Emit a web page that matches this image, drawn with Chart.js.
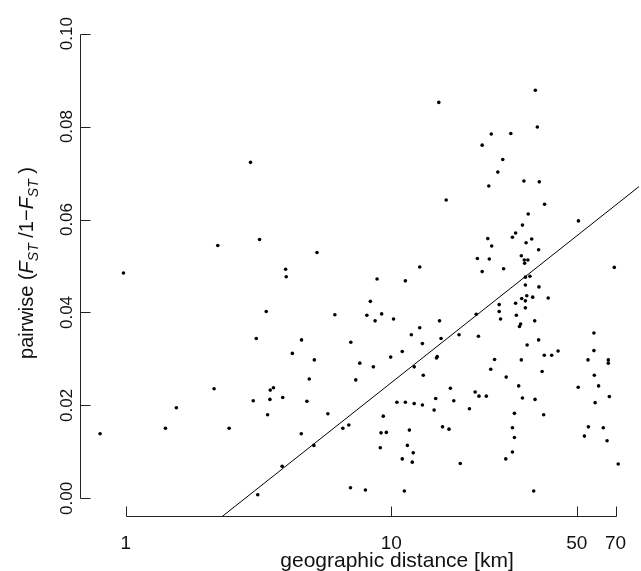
<!DOCTYPE html>
<html>
<head>
<meta charset="utf-8">
<script src="https://cdn.jsdelivr.net/npm/chart.js@4"></script>
<style>
  html, body { margin: 0; padding: 0; background: #fff; }
  canvas { display: block; }
</style>
</head>
<body>
<canvas id="chart" width="641" height="571"></canvas>
<script>
// geographic distance (km) and pairwise FST/(1-FST), one entry per population pair
const distanceKm = [
  2.95, 3.19, 2.22, 0.98, 3.38, 3.10, 2.15, 3.50, 3.60, 3.02,
  3.49, 1.55, 3.42, 0.80, 1.41, 2.45, 3.14, 5.25, 4.00, 4.02,
  8.84, 11.3, 12.8, 8.34, 6.13, 8.09, 9.20, 8.69, 10.2, 4.59,
  7.04, 11.9, 12.8, 4.24, 5.13, 7.61, 8.56, 9.95, 11.0, 4.91,
  7.35, 12.2, 3.90, 4.81, 10.5, 11.3, 12.2, 5.77, 9.33, 6.57,
  6.92, 4.58, 9.15, 9.58, 11.7, 5.11, 9.09, 11.5, 3.88, 11.0,
  12.1, 12.0, 7.02, 7.99, 11.2, 34.9, 15.1, 35.5, 23.8, 28.2,
  22.0, 26.3, 25.2, 23.3, 31.6, 36.1, 16.1, 37.8, 32.8, 31.2,
  29.4, 23.1, 28.6, 32.2, 33.8, 23.9, 35.9, 21.1, 23.4, 30.9,
  31.7, 32.7, 31.8, 22.0, 26.5, 32.0, 33.3, 32.0, 36.0, 32.4,
  31.0, 32.0, 34.1, 39.0, 29.4, 32.0, 25.5, 25.5, 25.8, 29.6,
  20.9, 15.2, 15.4, 13.1, 18.0, 21.3, 30.7, 30.4, 34.7, 35.9,
  32.5, 14.9, 14.8, 13.2, 24.5, 30.9, 37.7, 40.2, 42.5, 23.7,
  27.1, 37.0, 16.7, 20.7, 21.4, 22.8, 14.7, 17.2, 30.2, 31.2,
  34.8, 13.1, 14.5, 19.7, 29.1, 37.5, 15.6, 16.5, 28.6, 29.1,
  18.2, 27.0, 28.6, 34.4, 50.7, 69.2, 58.0, 58.0, 55.1, 65.7,
  65.7, 58.2, 60.4, 50.6, 66.3, 58.6, 55.3, 62.9, 53.4, 65.0, 71.6
];
const pairwiseFst = [
  0.0723, 0.0557, 0.0544, 0.0485, 0.0402, 0.0344, 0.0236, 0.0233, 0.0238, 0.0210,
  0.0213, 0.0195, 0.0180, 0.0139, 0.0151, 0.0151, 0.0008, 0.0529, 0.0493, 0.0477,
  0.0472, 0.0468, 0.0498, 0.0424, 0.0395, 0.0394, 0.0397, 0.0382, 0.0386, 0.0341,
  0.0336, 0.0352, 0.0367, 0.0312, 0.0298, 0.0291, 0.0283, 0.0304, 0.0316, 0.0257,
  0.0255, 0.0283, 0.0217, 0.0209, 0.0207, 0.0207, 0.0204, 0.0182, 0.0177, 0.0151,
  0.0158, 0.0139, 0.0141, 0.0142, 0.0147, 0.0114, 0.0109, 0.0114, 0.0069, 0.0085,
  0.0098, 0.0078, 0.0023, 0.0018, 0.0016, 0.0878, 0.0852, 0.0799, 0.0784, 0.0785,
  0.0760, 0.0729, 0.0702, 0.0672, 0.0683, 0.0681, 0.0642, 0.0633, 0.0612, 0.0588,
  0.0571, 0.0559, 0.0562, 0.0550, 0.0558, 0.0543, 0.0535, 0.0516, 0.0515, 0.0522,
  0.0513, 0.0513, 0.0506, 0.0488, 0.0494, 0.0476, 0.0478, 0.0459, 0.0455, 0.0436,
  0.0430, 0.0425, 0.0433, 0.0431, 0.0420, 0.0410, 0.0417, 0.0402, 0.0386, 0.0394,
  0.0396, 0.0382, 0.0344, 0.0333, 0.0352, 0.0349, 0.0375, 0.0370, 0.0382, 0.0341,
  0.0330, 0.0305, 0.0302, 0.0265, 0.0299, 0.0298, 0.0308, 0.0308, 0.0317, 0.0278,
  0.0261, 0.0273, 0.0237, 0.0229, 0.0220, 0.0220, 0.0215, 0.0210, 0.0242, 0.0216,
  0.0213, 0.0201, 0.0190, 0.0193, 0.0183, 0.0180, 0.0154, 0.0149, 0.0152, 0.0131,
  0.0075, 0.0085, 0.0100, 0.0016, 0.0597, 0.0497, 0.0356, 0.0318, 0.0298, 0.0298,
  0.0291, 0.0265, 0.0242, 0.0239, 0.0219, 0.0206, 0.0154, 0.0152, 0.0134, 0.0124, 0.0074
];

// regression of FST/(1-FST) on log10(distance)
const fitIntercept = -0.0203;
const fitSlope = 0.0452;

const xTickValues = [1, 10, 50, 70];
const xTickLabels = ['1', '10', '50', '70'];
const yTickValues = [0, 0.02, 0.04, 0.06, 0.08, 0.10];
const yTickLabels = ['0.00', '0.02', '0.04', '0.06', '0.08', '0.10'];

const xMin = 0.672, xMax = 85.9;
const yMin = -0.004, yMax = 0.104;

const points = distanceKm.map((d, i) => ({ x: d, y: pairwiseFst[i] }));
const fitLine = [xMin, xMax].map(d => ({ x: d, y: fitIntercept + fitSlope * Math.log10(d) }));

const FONT = '"Liberation Sans", Arial, Helvetica, sans-serif';
const INK = '#111';

// R-style axes: lines only across the tick range, ticks pointing inward
const rAxes = {
  id: 'rAxes',
  afterDraw(chart) {
    const { ctx, chartArea } = chart;
    const xs = chart.scales.x, ys = chart.scales.y;
    const yb = Math.round(chartArea.bottom) - 0.5;
    const xl = Math.round(chartArea.left) + 0.5;
    ctx.save();
    ctx.strokeStyle = '#222';
    ctx.lineWidth = 1;

    ctx.beginPath();
    ctx.moveTo(Math.round(xs.getPixelForValue(xTickValues[0])) + 0.5, yb);
    ctx.lineTo(Math.round(xs.getPixelForValue(xTickValues[xTickValues.length - 1])) + 0.5, yb);
    xTickValues.forEach(v => {
      const px = Math.round(xs.getPixelForValue(v)) + 0.5;
      ctx.moveTo(px, yb);
      ctx.lineTo(px, yb - 10);
    });
    ctx.moveTo(xl, Math.round(ys.getPixelForValue(yTickValues[0])) + 0.5);
    ctx.lineTo(xl, Math.round(ys.getPixelForValue(yTickValues[yTickValues.length - 1])) + 0.5);
    yTickValues.forEach(v => {
      const py = Math.round(ys.getPixelForValue(v)) + 0.5;
      ctx.moveTo(xl, py);
      ctx.lineTo(xl + 10, py);
    });
    ctx.stroke();

    ctx.fillStyle = INK;
    ctx.textAlign = 'center';
    ctx.textBaseline = 'alphabetic';
    ctx.font = '19px ' + FONT;
    xTickValues.forEach((v, i) => {
      ctx.fillText(xTickLabels[i], xs.getPixelForValue(v), 549);
    });

    ctx.font = '17px ' + FONT;
    yTickValues.forEach((v, i) => {
      ctx.save();
      ctx.translate(72, ys.getPixelForValue(v));
      ctx.rotate(-Math.PI / 2);
      ctx.fillText(yTickLabels[i], 0, 0);
      ctx.restore();
    });

    ctx.font = '21px ' + FONT;
    ctx.fillText('geographic distance [km]', 397, 567);

    // y title with italic F and subscript ST
    const parts = [
      { t: 'pairwise (', f: '20px ' + FONT, dy: 0 },
      { t: 'F', f: 'italic 20px ' + FONT, dy: 0 },
      { t: 'ST', f: 'italic 14px ' + FONT, dy: 5 },
      { t: ' /1\u2212', f: '20px ' + FONT, dy: 0 },
      { t: 'F', f: 'italic 20px ' + FONT, dy: 0 },
      { t: 'ST', f: 'italic 14px ' + FONT, dy: 5 },
      { t: ' )', f: '20px ' + FONT, dy: 0 }
    ];
    let total = 0;
    parts.forEach(p => { ctx.font = p.f; p.w = ctx.measureText(p.t).width; total += p.w; });
    ctx.save();
    ctx.translate(33, 263);
    ctx.rotate(-Math.PI / 2);
    ctx.textAlign = 'left';
    let cx = -total / 2;
    parts.forEach(p => {
      ctx.font = p.f;
      ctx.fillText(p.t, cx, p.dy);
      cx += p.w;
    });
    ctx.restore();
    ctx.restore();
  }
};

new Chart(document.getElementById('chart'), {
  type: 'scatter',
  data: {
    datasets: [
      {
        data: points,
        pointRadius: 1.8,
        pointHoverRadius: 1.8,
        pointBackgroundColor: '#000',
        pointBorderWidth: 0
      },
      {
        type: 'line',
        data: fitLine,
        borderColor: '#000',
        borderWidth: 1,
        pointRadius: 0,
        fill: false,
        tension: 0
      }
    ]
  },
  options: {
    responsive: false,
    animation: false,
    devicePixelRatio: 1,
    events: [],
    layout: { padding: { left: 80, right: 0, top: 15, bottom: 54 } },
    plugins: { legend: { display: false }, tooltip: { enabled: false } },
    scales: {
      x: { type: 'logarithmic', min: xMin, max: xMax, display: false },
      y: { type: 'linear', min: yMin, max: yMax, display: false }
    }
  },
  plugins: [rAxes]
});
</script>
</body>
</html>
